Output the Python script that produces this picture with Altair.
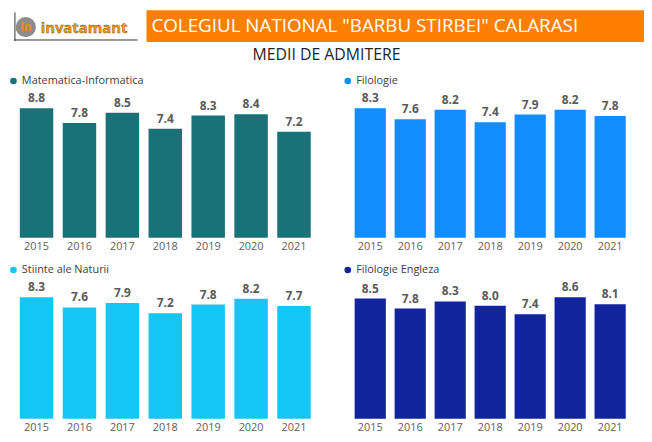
import altair as alt
import pandas as pd

years = ["2015", "2016", "2017", "2018", "2019", "2020", "2021"]
names = ["Matematica-Informatica", "Filologie", "Stiinte ale Naturii", "Filologie Engleza"]
mate_info = [8.8, 7.8, 8.5, 7.4, 8.3, 8.4, 7.2]
filologie = [8.3, 7.6, 8.2, 7.4, 7.9, 8.2, 7.8]
stiinte = [8.3, 7.6, 7.9, 7.2, 7.8, 8.2, 7.7]
filo_engl = [8.5, 7.8, 8.3, 8.0, 7.4, 8.6, 8.1]
colors = ["#197278", "#118DFF", "#15C6F4", "#12239E"]

header_title = 'COLEGIUL NATIONAL "BARBU STIRBEI" CALARASI'
sub_title = "MEDII DE ADMITERE"
logo_text = "invatamant"

FONT = "Open Sans"


def panel(name, values, color, width, height, lx):
    df = pd.DataFrame({"an": years, "medie": values, "serie": [name] * len(years)})
    base = alt.Chart(df).encode(
        x=alt.X("an:N", sort=years, title=None,
                scale=alt.Scale(paddingInner=0.22, paddingOuter=0.16),
                axis=alt.Axis(labelAngle=0, ticks=False, domain=False, grid=False,
                              labelColor="#605E5C", labelFontSize=11, labelFont=FONT,
                              labelPadding=3)),
        y=alt.Y("medie:Q", axis=None, scale=alt.Scale(zero=True, nice=False)),
    )
    bars = base.mark_bar().encode(
        color=alt.Color("serie:N", scale=alt.Scale(domain=[name], range=[color]),
                        legend=alt.Legend(orient="none", legendX=lx, legendY=-33,
                                          padding=0, title=None, symbolType="circle",
                                          symbolSize=45, labelFont=FONT, labelFontSize=11,
                                          labelColor="#404040", labelOffset=3))
    )
    labels = base.mark_text(baseline="bottom", dy=-3, font=FONT, fontSize=12,
                            fontWeight="bold", color="#5A5A5A").encode(
        text=alt.Text("medie:Q", format=".1f"))
    return alt.layer(bars, labels).properties(width=width, height=height).resolve_scale(color="independent")


one = pd.DataFrame({"k": [0]})
banner = alt.Chart(one).mark_rect(color="#FF8000").encode(
    x=alt.value(135), x2=alt.value(638), y=alt.value(0), y2=alt.value(32))
title_txt = alt.Chart(one).mark_text(align="left", baseline="middle", font=FONT,
                                     fontSize=19, color="white").encode(
    x=alt.value(140), y=alt.value(16), text=alt.value(header_title))
sub_txt = alt.Chart(one).mark_text(align="center", baseline="middle", font=FONT,
                                   fontSize=16, color="#252423").encode(
    x=alt.value(317), y=alt.value(45), text=alt.value(sub_title))
logo_circle = alt.Chart(one).mark_point(filled=True, color="#8C8C8C", size=420, opacity=1).encode(
    x=alt.value(13), y=alt.value(17))
logo_in = alt.Chart(one).mark_text(align="center", baseline="middle", font=FONT,
                                   fontSize=12, fontWeight="bold", color="#F08A00").encode(
    x=alt.value(13), y=alt.value(17), text=alt.value("In"))
logo_word = alt.Chart(one).mark_text(align="left", baseline="middle", font=FONT,
                                     fontSize=15, fontWeight="bold", color="#F39A1E",
                                     stroke="#7A4A00", strokeWidth=0.4).encode(
    x=alt.value(28), y=alt.value(18), text=alt.value(logo_text))
logo_axis = alt.Chart(one).mark_rule(color="#333333", strokeWidth=1).encode(
    x=alt.value(1), x2=alt.value(126), y=alt.value(30))
logo_axis_v = alt.Chart(one).mark_rule(color="#333333", strokeWidth=1).encode(
    x=alt.value(2), y=alt.value(2), y2=alt.value(31))

header = alt.layer(banner, logo_axis, logo_axis_v, logo_circle, logo_in, logo_word,
                   title_txt, sub_txt).properties(width=630, height=50)

LW, RW = 308, 287
row1 = alt.hconcat(panel(names[0], mate_info, colors[0], LW, 131, -5),
                   panel(names[1], filologie, colors[1], RW, 131, -6),
                   spacing=25).resolve_scale(color="independent").resolve_legend(color="independent")
row2 = alt.hconcat(panel(names[2], stiinte, colors[2], LW, 123, -5),
                   panel(names[3], filo_engl, colors[3], RW, 123, -6),
                   spacing=25).resolve_scale(color="independent").resolve_legend(color="independent")

chart = alt.vconcat(
    header,
    alt.vconcat(row1, row2, spacing=13).resolve_scale(color="independent"),
    spacing=13,
).resolve_scale(color="independent").properties(padding=0, background="white").configure_view(stroke=None)

chart.save("out.html", embed_options={"renderer": "svg", "actions": False})
